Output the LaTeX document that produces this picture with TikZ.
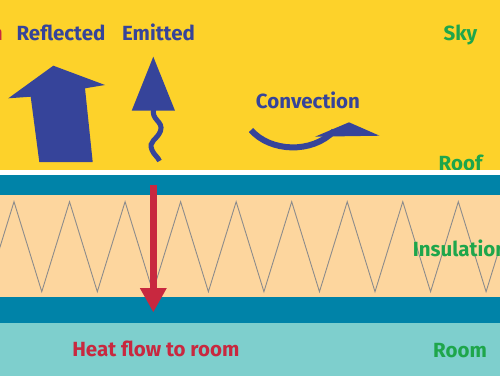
\documentclass[tikz,border=0pt]{standalone}
\usepackage{fontspec}
\setmainfont{Fira Sans}
\definecolor{skyY}{HTML}{FDD22A}
\definecolor{navy}{HTML}{36449A}
\definecolor{leaf}{HTML}{1EA64B}
\definecolor{crim}{HTML}{C8283F}
\definecolor{teal}{HTML}{0083A8}
\definecolor{peach}{HTML}{FDD69E}
\definecolor{roomc}{HTML}{7ECFCD}
\definecolor{zig}{HTML}{8C8C8C}
\tikzset{
  lbl/.style={font=\bfseries\fontsize{20.5}{22}\selectfont, inner sep=0pt},
  bluelbl/.style={lbl, text=navy},
  greenlbl/.style={lbl, text=leaf},
  redlbl/.style={lbl, text=crim},
}
\begin{document}
\begin{tikzpicture}[x=1pt,y=-1pt]
\useasboundingbox (0,0) rectangle (500,376);
\clip (0,0) rectangle (500,376);
% sky
\fill[skyY] (0,0) rectangle (500,170);
\node[redlbl, anchor=base east] (cut) at (3,40) {n};
\node[bluelbl, anchor=base] (refl) at (61,40) {Reflected};
\node[bluelbl, anchor=base] (emit) at (158.5,40) {Emitted};
\node[greenlbl, anchor=base] (sky) at (460.5,40) {Sky};
\node[bluelbl, anchor=base] (conv) at (308,108) {Convection};
\node[greenlbl, anchor=base] (roof) at (460.5,170.5) {Roof};
% reflected arrow
\fill[navy] (53.3,65.7) -- (105,85) -- (85,88.3) -- (92.7,162) -- (39.3,162) -- (30.7,96.7) -- (8.3,98.3) -- cycle;
% emitted arrow
\fill[navy] (153.3,56.7) -- (175,110.7) -- (131.7,110.7) -- cycle;
\draw[navy, line width=5pt] (154,108) .. controls (150,120) and (164,121) .. (160.5,131)
  .. controls (157,140) and (148,141) .. (152,150) .. controls (154,155) and (158,157) .. (159.5,161);
% convection arrow
\draw[navy, line width=6pt] (251,130) .. controls (270,152) and (312,154) .. (334,131);
\fill[navy] (315,136.7) -- (349,122.3) -- (379.5,135.7) -- cycle;
% roof layers
\fill[white] (0,170) rectangle (500,174.7);
\fill[teal] (0,174.7) rectangle (500,195);
\fill[peach] (0,195) rectangle (500,297);
\draw[zig, line width=0.9pt] (-13.8,291.7)
  \foreach \k in {0,...,9} { -- ({14+55.54*\k},201.7) -- ({41.77+55.54*\k},291.7) };
\fill[teal] (0,297) rectangle (500,323);
% heat flow arrow
\fill[crim] (149.8,185) rectangle (156.8,289);
\fill[crim] (139.8,288) -- (166.8,288) -- (153.3,312) -- cycle;
\node[greenlbl, anchor=base west] (ins) at (412.7,256) {Insulation};
% room
\fill[roomc] (0,323) rectangle (500,376);
\node[redlbl, anchor=base] (heat) at (155.8,356.7) {Heat flow to room};
\node[greenlbl, anchor=base] (room) at (460,357.3) {Room};
\end{tikzpicture}
\end{document}
